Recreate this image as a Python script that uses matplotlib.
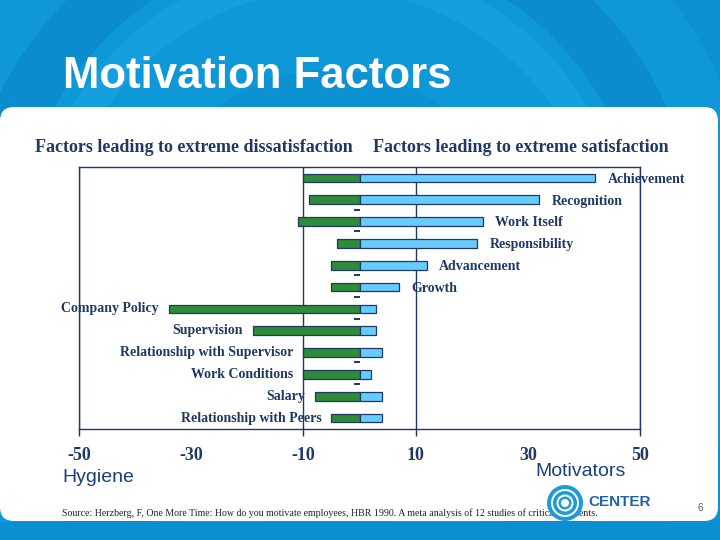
import matplotlib
matplotlib.use("Agg")
import matplotlib.pyplot as plt
from matplotlib.patches import Rectangle, FancyBboxPatch, Wedge, Circle

# chart data
factors = ["Achievement", "Recognition", "Work Itself", "Responsibility",
           "Advancement", "Growth", "Company Policy", "Supervision",
           "Relationship with Supervisor", "Work Conditions", "Salary",
           "Relationship with Peers"]
dissatisfaction = [-10, -9, -11, -4, -5, -5, -34, -19, -10, -10, -8, -5]
satisfaction = [42, 32, 22, 21, 12, 7, 3, 3, 4, 2, 4, 4]
tick_values = [-50, -30, -10, 10, 30, 50]
dash_rows = ["Recognition", "Work Itself", "Advancement", "Growth",
             "Company Policy", "Relationship with Supervisor", "Work Conditions"]

navy = "#1F3864"
green = "#2E8B3A"
light_blue = "#66CCFF"
slide_blue = "#0E98D8"
serif = ["Liberation Serif", "DejaVu Serif"]
sans = ["Liberation Sans", "DejaVu Sans"]

fig = plt.figure(figsize=(7.2, 5.4), dpi=100)

# slide background in pixel coordinates
bg = fig.add_axes([0, 0, 1, 1])
bg.set_xlim(0, 720)
bg.set_ylim(540, 0)
bg.axis("off")
bg.add_patch(Rectangle((0, 0), 720, 540, color=slide_blue))
for r, w, c in [(190, 45, "#0C91D3"), (300, 30, "#169FDE"), (370, 55, "#0A8CCE"),
                (470, 40, "#0C92D4"), (560, 60, "#0989CB")]:
    bg.add_patch(Wedge((330, 260), r, 0, 360, width=w, color=c, lw=0))
bg.add_patch(Rectangle((0, 522), 720, 18, color="#0A90D2", lw=0))
bg.add_patch(FancyBboxPatch((14, 121), 690, 386, boxstyle="round,pad=14",
                            fc="white", ec="none"))
bg.text(63, 88, "Motivation Factors", color="white", fontsize=31.5,
        fontweight="bold", family=sans, va="baseline", ha="left")
bg.text(35, 147, "Factors leading to extreme dissatisfaction", color=navy,
        fontsize=13, fontweight="bold", family=serif, va="center")
bg.text(373, 147, "Factors leading to extreme satisfaction", color=navy,
        fontsize=13, fontweight="bold", family=serif, va="center")
bg.text(62, 478, "Hygiene", color="#1B3F7A", fontsize=14, family=sans, va="center")
bg.text(535, 471, "Motivators", color="#1B3F7A", fontsize=14, family=sans, va="center")
bg.text(62, 513, "Source: Herzberg, F, One More Time: How do you motivate employees, "
        "HBR 1990. A meta analysis of 12 studies of critical incidents.",
        color="#222222", fontsize=7.1, family=serif, va="center")
# logo
for r, c in [(18, "#1E9ADB"), (14, "white"), (12, "#1E9ADB"), (8.5, "white"),
             (6.5, "#1E9ADB"), (4, "white")]:
    bg.add_patch(Circle((565, 503), r, color=c, lw=0, zorder=3))
bg.text(588, 502, "CENTER", color="#1E63AA", fontsize=11, fontweight="bold",
        family=sans, va="center", zorder=3)
bg.text(698, 508, "6", color="#555555", fontsize=7, family=sans, va="center")

# chart
ax = fig.add_axes([79 / 720, 1 - 429 / 540, 561 / 720, 262 / 540])
y = list(range(len(factors)))
ax.barh(y, dissatisfaction, height=0.39, color=green, edgecolor=navy,
        linewidth=0.9, zorder=3)
ax.barh(y, satisfaction, height=0.39, color=light_blue, edgecolor=navy,
        linewidth=0.9, zorder=3)

dy = [factors.index(n) + 0.45 for n in dash_rows]
ax.plot([-0.5] * len(dy), dy, ls="none", marker="_", ms=5, mew=1.4,
        color=navy, zorder=3)

for i, name in enumerate(factors):
    if satisfaction[i] > -dissatisfaction[i]:
        ax.annotate(name, xy=(satisfaction[i], i), xytext=(9, -1),
                    textcoords="offset points", ha="left", va="center",
                    fontsize=10, fontweight="bold", family=serif, color=navy,
                    annotation_clip=False)
    else:
        ax.annotate(name, xy=(dissatisfaction[i], i), xytext=(-7, 0),
                    textcoords="offset points", ha="right", va="center",
                    fontsize=10, fontweight="bold", family=serif, color=navy,
                    annotation_clip=False)

ax.set_xlim(-50, 50)
ax.set_ylim(len(factors) - 0.5, -0.5)
ax.set_yticks([])
ax.set_xticks(tick_values)
ax.set_xticklabels([str(v) for v in tick_values], fontsize=13,
                   fontweight="bold", family=serif, color=navy)
ax.set_xticks([-50, -10, 10, 50], minor=True)
ax.xaxis.remove_overlapping_locs = False
ax.tick_params(axis="x", which="major", length=0, pad=13)
ax.tick_params(axis="x", which="minor", length=5, width=1, color=navy)
ax.grid(axis="x", which="minor", color=navy, linewidth=1, zorder=1)
ax.set_axisbelow(True)
for s in ax.spines.values():
    s.set_color(navy)
    s.set_linewidth(1)

fig.savefig("out.png", dpi=100)
